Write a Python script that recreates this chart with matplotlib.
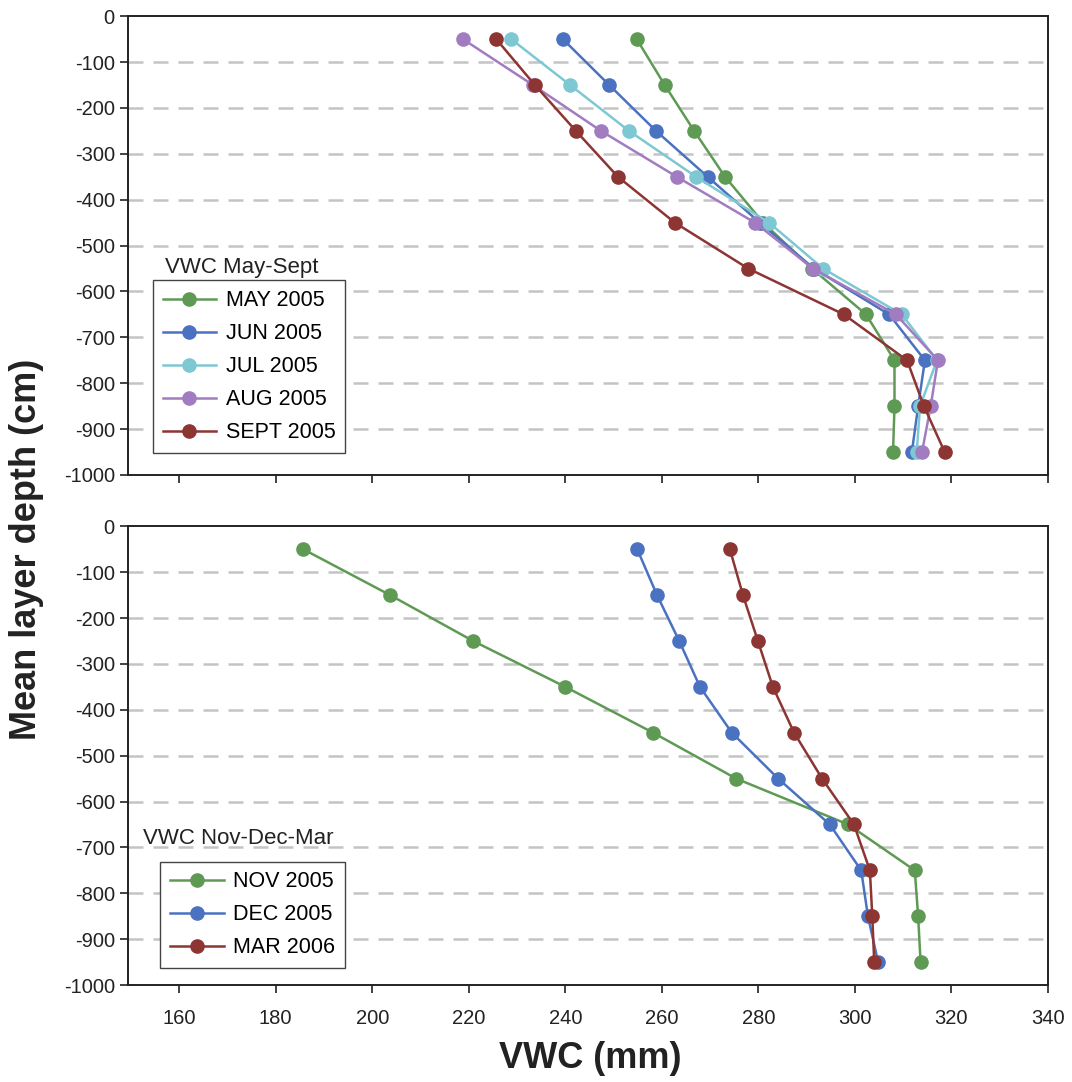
import matplotlib
matplotlib.use('Agg')
import matplotlib.pyplot as plt

plt.rcParams['font.family'] = ['Liberation Sans', 'DejaVu Sans']

# Profondeurs moyennes des couches (cm)
depth = [-50, -150, -250, -350, -450, -550, -650, -750, -850, -950]

# VWC mai-sept 2005 (mm)
may_2005 = [254.8, 260.6, 266.7, 273.1, 281.0, 291.1, 302.3, 308.2, 308.2, 307.9]
jun_2005 = [239.5, 249.1, 258.8, 269.5, 280.3, 291.5, 307.1, 314.5, 313.1, 311.8]
jul_2005 = [228.8, 241.0, 253.2, 267.1, 282.2, 293.4, 309.7, 317.0, 313.5, 312.8]
aug_2005 = [218.8, 233.3, 247.4, 263.1, 279.3, 291.3, 308.5, 317.2, 315.7, 313.9]
sept_2005 = [225.7, 233.7, 242.2, 250.9, 262.7, 277.9, 297.7, 310.8, 314.3, 318.6]

# VWC nov-dec-mar (mm)
nov_2005 = [185.7, 203.7, 220.9, 240.0, 258.2, 275.4, 298.6, 312.4, 313.1, 313.6]
dec_2005 = [254.9, 259.0, 263.6, 267.9, 274.5, 284.1, 294.8, 301.3, 302.7, 304.8]
mar_2006 = [274.1, 276.8, 279.9, 283.0, 287.4, 293.2, 299.8, 303.1, 303.6, 304.0]

top_series = [('MAY 2005', may_2005, '#5f9a55'),
              ('JUN 2005', jun_2005, '#4b72c1'),
              ('JUL 2005', jul_2005, '#7ec8d3'),
              ('AUG 2005', aug_2005, '#a27cc0'),
              ('SEPT 2005', sept_2005, '#8c3532')]
bottom_series = [('NOV 2005', nov_2005, '#5f9a55'),
                 ('DEC 2005', dec_2005, '#4b72c1'),
                 ('MAR 2006', mar_2006, '#8c3532')]

x_ticks = [160, 180, 200, 220, 240, 260, 280, 300, 320, 340]
y_ticks = [0, -100, -200, -300, -400, -500, -600, -700, -800, -900, -1000]

fig = plt.figure(figsize=(10.72, 10.82), dpi=100)
ax_top = fig.add_axes([0.1194, 0.561, 0.8582, 0.424])
ax_bot = fig.add_axes([0.1194, 0.0896, 0.8582, 0.424])


def style_axis(ax, show_xlabels):
    ax.set_xlim(149.4, 340)
    ax.set_ylim(-1000, 0)
    ax.set_xticks(x_ticks)
    ax.set_yticks(y_ticks)
    ax.set_yticklabels([str(v) for v in y_ticks])
    for v in y_ticks[1:-1]:
        ax.axhline(v, color='#c4c4c4', linestyle=(0, (6, 4)), linewidth=1.8, zorder=0)
    for s in ax.spines.values():
        s.set_linewidth(1.4)
        s.set_color('#222222')
    ax.tick_params(direction='out', length=6, width=1.2, labelsize=14.5,
                   colors='#222222')
    if not show_xlabels:
        ax.tick_params(axis='x', labelbottom=False)
    else:
        ax.tick_params(axis='x', pad=11)


for ax, series in [(ax_top, top_series), (ax_bot, bottom_series)]:
    for label, values, color in series:
        ax.plot(values, depth, '-o', color=color, label=label, linewidth=1.8,
                markersize=9.5, zorder=3)

style_axis(ax_top, False)
style_axis(ax_bot, True)

leg_kw = dict(loc='lower left', borderaxespad=0, fancybox=False, fontsize=15.5,
              handlelength=2.5, handletextpad=0.45, labelspacing=0.56,
              borderpad=0.45, framealpha=1)
leg1 = ax_top.legend(bbox_to_anchor=(0.027, 0.048), **leg_kw)
leg2 = ax_bot.legend(bbox_to_anchor=(0.035, 0.037), **leg_kw)
for leg in (leg1, leg2):
    leg.get_frame().set_edgecolor('#444444')
    leg.get_frame().set_linewidth(1.0)

ax_top.text(0.040, 0.453, 'VWC May-Sept', transform=ax_top.transAxes,
            fontsize=16, va='center', ha='left', color='#222222')
ax_bot.text(0.016, 0.320, 'VWC Nov-Dec-Mar', transform=ax_bot.transAxes,
            fontsize=16, va='center', ha='left', color='#222222')

fig.text(0.025, 0.492, 'Mean layer depth (cm)', rotation=90, fontsize=26,
         fontweight='bold', va='center', ha='center', color='#222222')
fig.text(0.551, 0.022, 'VWC (mm)', fontsize=26, fontweight='bold',
         va='center', ha='center', color='#222222')

fig.savefig('out.png', dpi=100)
